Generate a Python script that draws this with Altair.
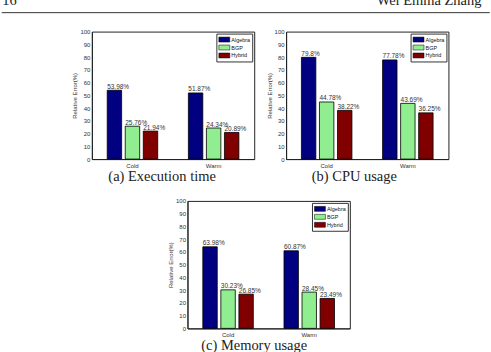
import altair as alt
import pandas as pd

# ---------------- data ----------------
groups = ["Cold", "Warm"]
methods = ["Algebra", "BGP", "Hybrid"]
colors = ["#000080", "#90EE90", "#800000"]

exec_vals = [53.98, 25.76, 21.94, 51.87, 24.34, 20.89]
exec_labels = ["53.98%", "25.76%", "21.94%", "51.87%", "24.34%", "20.89%"]

cpu_vals = [79.8, 44.78, 38.22, 77.78, 43.69, 36.25]
cpu_labels = ["79.8%", "44.78%", "38.22%", "77.78%", "43.69%", "36.25%"]

mem_vals = [63.98, 30.23, 26.85, 60.87, 28.45, 23.49]
mem_labels = ["63.98%", "30.23%", "26.85%", "60.87%", "28.45%", "23.49%"]

captions = ["(a) Execution time", "(b) CPU usage", "(c) Memory usage"]
y_ticks = list(range(0, 101, 10))
y_title = "Relative Error(%)"
header_left = "16"
header_right = "Wei Emma Zhang et al."

SANS = "Liberation Sans"
SERIF = "Liberation Serif"
PW, PH = 163, 128
CAP_SIZE = 14.5


def invisible_rule(x1, x2, y):
    return alt.Chart(pd.DataFrame({"t": [0]})).mark_rule(
        opacity=0, strokeWidth=0
    ).encode(x=alt.value(x1), x2=alt.value(x2), y=alt.value(y))


def panel(vals, labels, caption, cap_x, cap_y, extra=None):
    df = pd.DataFrame({
        "group": [g for g in groups for _ in methods],
        "method": methods * len(groups),
        "value": vals,
        "label": labels,
    })
    base = alt.Chart(df).encode(
        x=alt.X("group:N", sort=groups,
                scale=alt.Scale(paddingInner=0, paddingOuter=0),
                axis=alt.Axis(title=None, labelAngle=0, ticks=False,
                              labelPadding=3, labelFontSize=6)),
        xOffset=alt.XOffset("method:N", sort=methods,
                            scale=alt.Scale(paddingInner=0.2, paddingOuter=0.85)),
        y=alt.Y("value:Q", scale=alt.Scale(domain=[0, 100], nice=False),
                axis=alt.Axis(values=y_ticks, title=y_title, ticks=False,
                              labelPadding=2, labelFontSize=6, titleFontSize=6,
                              titlePadding=2, titleFontWeight="normal")),
    )
    bars = base.mark_bar(stroke="black", strokeWidth=0.8).encode(
        color=alt.Color("method:N", sort=methods,
                        scale=alt.Scale(domain=methods, range=colors),
                        legend=alt.Legend(
                            title=None, orient="top-right", offset=2, padding=2,
                            strokeColor="#333", fillColor="white",
                            symbolType="M-1,-0.71H2.14V0.71H-1Z", symbolSize=49,
                            symbolStrokeColor="black", symbolStrokeWidth=0.5,
                            symbolOpacity=1,
                            labelFontSize=5.5, labelOffset=5, rowPadding=0,
                            labelFont=SANS, labelColor="#111")),
    )
    text = base.mark_text(align="left", baseline="bottom", dx=-7.3, dy=-0.5,
                          fontSize=6.5, font=SANS, color="#333").encode(text="label:N")
    cap = alt.Chart(pd.DataFrame({"t": [caption]})).mark_text(
        font=SERIF, fontSize=CAP_SIZE, align="center", baseline="middle", color="#222"
    ).encode(text="t:N", x=alt.value(cap_x), y=alt.value(cap_y))
    layers = [bars, text, cap] + (extra or [])
    return alt.layer(*layers).properties(width=PW, height=PH)


# header (page running head) lives in panel (a)'s coordinate frame
header_layers = [
    alt.Chart(pd.DataFrame({"t": [0]})).mark_rule(color="#333", strokeWidth=1).encode(
        x=alt.value(-90.5), x2=alt.value(399.5), y=alt.value(-19)),
    alt.Chart(pd.DataFrame({"t": [header_left]})).mark_text(
        font=SERIF, fontSize=14.5, align="left", baseline="alphabetic", color="#222"
    ).encode(text="t:N", x=alt.value(-90), y=alt.value(-26.5)),
    alt.Chart(pd.DataFrame({"t": [header_right]})).mark_text(
        font=SERIF, fontSize=14.5, align="left", baseline="alphabetic", color="#222",
        limit=113, ellipsis="\u200b"
    ).encode(text="t:N", x=alt.value(286), y=alt.value(-26.5)),
    invisible_rule(0, 400, 159),
]

a = panel(exec_vals, exec_labels, captions[0], 70.5, 146.5, header_layers)
b = panel(cpu_vals, cpu_labels, captions[1], 68.5, 146.5)
c = panel(mem_vals, mem_labels, captions[2], 67, 146, [invisible_rule(0, 208, -9)])

top = alt.hconcat(a, b, spacing=32, bounds="flush").resolve_scale(
    color="independent").resolve_legend(color="independent")
chart = alt.vconcat(top, c, spacing=0, center=True).resolve_scale(
    color="independent").resolve_legend(color="independent")

chart = chart.properties(
    padding={"left": 0, "top": -8, "right": 0, "bottom": -1},
    background="white",
).configure_view(stroke="#222", strokeWidth=1).configure_axis(
    domainColor="#222", labelColor="#333", titleColor="#333",
    labelFont=SANS, titleFont=SANS, grid=False,
)

chart.save("out.html", embed_options={"renderer": "svg", "actions": False})
